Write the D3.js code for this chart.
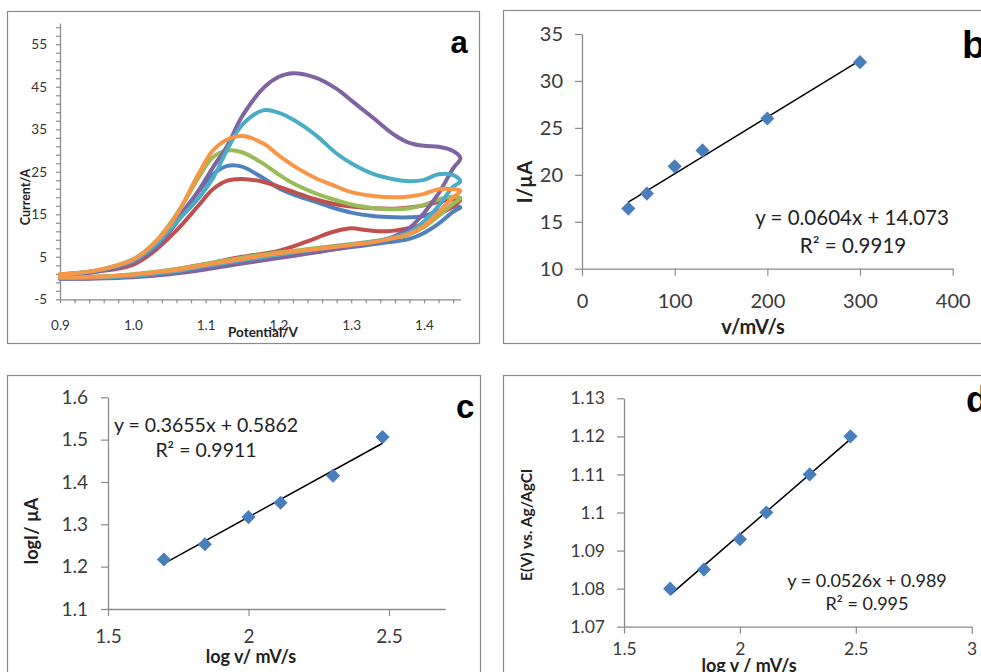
<!DOCTYPE html>
<html><head><meta charset="utf-8">
<script src="https://cdn.jsdelivr.net/npm/d3@7"></script>
<style>body{margin:0;background:#fff}svg{display:block}</style>
</head><body><svg id="chart" width="981" height="672"></svg>
<script>
// ---------- Panel a : cyclic voltammograms ----------
const cvForwardV = [0.9, 0.95, 1.0, 1.03, 1.06, 1.09, 1.11, 1.13, 1.15, 1.18, 1.2, 1.22, 1.25, 1.28, 1.3, 1.33, 1.36, 1.38, 1.4, 1.42, 1.44, 1.45];
const cvReverseV = [1.45, 1.44, 1.42, 1.40, 1.38, 1.35, 1.32, 1.3, 1.27, 1.25, 1.2, 1.15, 1.1, 1.05, 1.0, 0.95, 0.9];

const cvBlueFwd   = [0.8, 1.7, 4.0, 7.5, 13.8, 20.3, 24.4, 26.4, 26.2, 23.4, 21.2, 19.7, 18.0, 16.3, 15.4, 14.6, 14.3, 14.3, 14.6, 15.8, 16.8, 16.6];
const cvBlueRev   = [16.6, 15.6, 12.8, 10.6, 9.2, 8.4, 7.7, 7.3, 6.6, 6.1, 5.0, 3.8, 2.5, 1.2, 0.4, 0.0, -0.1];
const cvRedFwd    = [0.8, 1.5, 3.1, 6.4, 11.2, 17.0, 20.9, 22.9, 23.3, 22.6, 21.5, 20.3, 18.6, 17.3, 16.8, 16.4, 16.3, 16.6, 17.1, 17.9, 18.5, 18.3];
const cvRedRev    = [18.3, 16.8, 15.0, 12.8, 11.8, 11.0, 11.3, 11.7, 10.6, 9.3, 6.4, 5.0, 3.3, 1.8, 0.8, 0.3, 0.1];
const cvGreenFwd  = [0.9, 1.8, 4.4, 8.4, 15.0, 23.5, 28.4, 30.0, 29.6, 26.8, 24.4, 22.3, 20.0, 18.3, 17.3, 16.5, 16.2, 16.4, 17.2, 18.5, 19.1, 18.8];
const cvGreenRev  = [18.8, 17.5, 14.6, 12.0, 10.3, 9.2, 8.4, 8.0, 7.4, 7.0, 6.0, 4.8, 3.3, 1.9, 0.9, 0.3, 0.1];
const cvPurpleFwd = [0.7, 1.5, 3.6, 7.0, 13.0, 20.5, 26.0, 31.2, 38.0, 44.8, 47.3, 48.2, 47.2, 44.5, 41.8, 37.7, 33.6, 31.8, 31.1, 30.9, 29.9, 28.2];
const cvPurpleRev = [28.2, 25.8, 19.9, 15.3, 11.8, 9.2, 8.0, 7.4, 6.6, 6.0, 4.7, 3.4, 2.0, 0.9, 0.2, -0.1, -0.2];
const cvCyanFwd   = [0.8, 1.7, 4.0, 7.6, 13.2, 18.7, 23.5, 30.3, 36.0, 39.5, 38.9, 37.3, 33.8, 29.3, 27.0, 24.5, 23.2, 22.8, 23.1, 24.4, 24.2, 22.8];
const cvCyanRev   = [22.8, 21.5, 17.0, 13.3, 10.8, 9.2, 8.3, 7.9, 7.2, 6.7, 5.5, 4.2, 2.8, 1.4, 0.5, 0.1, -0.1];
const cvOrangeFwd = [0.9, 1.8, 4.3, 8.2, 14.8, 24.4, 30.0, 32.6, 33.4, 31.6, 28.9, 26.5, 23.6, 21.5, 20.2, 19.3, 19.0, 19.2, 19.8, 20.9, 20.9, 20.5];
const cvOrangeRev = [20.5, 19.0, 15.5, 12.3, 10.4, 9.1, 8.2, 7.8, 7.2, 6.8, 5.8, 4.5, 3.1, 1.7, 0.8, 0.3, 0.1];

const cvColors = ["#4F81BD", "#C0504D", "#9BBB59", "#8064A2", "#4BACC6", "#F79646"];
const aYTickLabels = [-5, 5, 15, 25, 35, 45, 55];
const aXTickLabels = [0.9, 1.0, 1.1, 1.2, 1.3, 1.4];

// ---------- Panel b ----------
const scanRate = [50, 70, 100, 130, 200, 300];
const peakCurrent = [16.4, 18.0, 20.9, 22.6, 26.0, 32.0];
const bSlope = 0.0604, bIntercept = 14.073;
const bYTicks = [10, 15, 20, 25, 30, 35];
const bXTicks = [0, 100, 200, 300, 400];

// ---------- Panel c ----------
const logScanRate = [1.699, 1.845, 2.0, 2.114, 2.301, 2.477];
const logPeakCurrent = [1.217, 1.253, 1.317, 1.351, 1.415, 1.506];
const cSlope = 0.3655, cIntercept = 0.5862;
const cYTicks = [1.1, 1.2, 1.3, 1.4, 1.5, 1.6];
const cXTicks = [1.5, 2, 2.5];

// ---------- Panel d ----------
const peakPotential = [1.080, 1.085, 1.093, 1.100, 1.110, 1.120];
const dSlope = 0.0526, dIntercept = 0.989;
const dYTicks = [1.07, 1.08, 1.09, 1.1, 1.11, 1.12, 1.13];
const dXTicks = [1.5, 2, 2.5, 3];

const svg = d3.select("#chart");
const GRAY = "#8a8a8a";
const FONT = "Lato, 'Open Sans', sans-serif";

function styleAxis(g, size, color) {
  g.select(".domain").attr("stroke", GRAY).attr("stroke-width", 1.3);
  g.selectAll(".tick line").attr("stroke", GRAY).attr("stroke-width", 1.2);
  g.selectAll(".tick text").attr("font-family", FONT).attr("font-size", size).attr("fill", color);
}

// panel borders
[[7.5, 11.5, 472, 332], [503.5, 10.5, 490, 333], [7.5, 375.5, 473, 320], [503.5, 375.5, 490, 320]].forEach(r => {
  svg.append("rect").attr("x", r[0]).attr("y", r[1]).attr("width", r[2]).attr("height", r[3])
    .attr("fill", "none").attr("stroke", GRAY).attr("stroke-width", 1.2);
});

// ===== Panel a =====
{
  const x = d3.scaleLinear().domain([0.9, 1.45]).range([60, 460.4]);
  const y = d3.scaleLinear().domain([-5, 60]).range([299.3, 23]);
  const ya = svg.append("g").attr("transform", "translate(60,0)")
    .call(d3.axisLeft(y).tickValues(d3.range(-5, 60, 2)).tickSize(4).tickSizeOuter(0).tickPadding(9)
      .tickFormat(d => aYTickLabels.includes(d) ? d : ""));
  styleAxis(ya, 13.5, "#333");
  const xa = svg.append("g").attr("transform", "translate(0,299.3)")
    .call(d3.axisBottom(x).tickValues(d3.range(0, 28).map(i => +(0.9 + i * 0.02).toFixed(2))).tickSize(4).tickSizeOuter(0).tickPadding(17)
      .tickFormat(d => aXTickLabels.some(v => Math.abs(v - d) < 1e-9) ? d3.format(".1f")(d) : ""));
  styleAxis(xa, 13.5, "#333");

  const series = [
    [cvBlueFwd, cvBlueRev], [cvRedFwd, cvRedRev], [cvGreenFwd, cvGreenRev],
    [cvPurpleFwd, cvPurpleRev], [cvCyanFwd, cvCyanRev], [cvOrangeFwd, cvOrangeRev]
  ];
  const line = d3.line().x(d => x(d[0])).y(d => y(d[1])).curve(d3.curveCatmullRom.alpha(0.5));
  series.forEach((s, i) => {
    const pts = cvForwardV.map((v, k) => [v, s[0][k]]).concat(cvReverseV.slice(1).map((v, k) => [v, s[1][k + 1]]));
    svg.append("path").attr("d", line(pts)).attr("fill", "none").attr("stroke", cvColors[i])
      .attr("stroke-width", 4).attr("stroke-linejoin", "round").attr("stroke-linecap", "round");
  });
  svg.append("text").attr("x", 263).attr("y", 337).attr("text-anchor", "middle")
    .attr("font-family", FONT).attr("font-weight", "bold").attr("font-size", 13.5).attr("fill", "#222").text("Potential/V");
  svg.append("text").attr("transform", "translate(30,197) rotate(-90)").attr("text-anchor", "middle")
    .attr("font-family", FONT).attr("font-weight", "bold").attr("font-size", 12.5).attr("fill", "#222").text("Current/A");
  svg.append("text").attr("x", 459).attr("y", 53).attr("text-anchor", "middle")
    .attr("font-family", "Arial, 'Liberation Sans', sans-serif").attr("font-weight", "bold").attr("font-size", 31).attr("fill", "#000").text("a");
}

function scatterPanel(o) {
  const x = d3.scaleLinear().domain(o.xd).range(o.xr);
  const y = d3.scaleLinear().domain(o.yd).range(o.yr);
  const ya = svg.append("g").attr("transform", `translate(${o.xr[0]},0)`)
    .call(d3.axisLeft(y).tickValues(o.yTicks).tickSize(7).tickSizeOuter(0).tickPadding(o.yPad).tickFormat(o.yFmt));
  styleAxis(ya, o.tickSize, "#3a3a3a");
  const xa = svg.append("g").attr("transform", `translate(0,${o.yr[0]})`)
    .call(d3.axisBottom(x).tickValues(o.xTicks).tickSize(7).tickSizeOuter(0).tickPadding(o.xPad).tickFormat(d3.format("")));
  styleAxis(xa, o.tickSize, "#3a3a3a");
  const x0 = d3.min(o.xs), x1 = d3.max(o.xs);
  svg.append("line").attr("x1", x(x0)).attr("y1", y(o.slope * x0 + o.icpt))
    .attr("x2", x(x1)).attr("y2", y(o.slope * x1 + o.icpt)).attr("stroke", "#000").attr("stroke-width", 1.5);
  svg.selectAll(null).data(o.xs.map((v, i) => [v, o.ys[i]])).enter().append("path")
    .attr("d", d3.symbol(d3.symbolSquare, 100)())
    .attr("transform", d => `translate(${x(d[0])},${y(d[1])}) rotate(45)`)
    .attr("fill", "#4A7EBB");
  const ft = svg.append("g").attr("font-family", FONT).attr("fill", "#222").attr("font-size", o.eqSize).attr("text-anchor", "middle");
  ft.append("text").attr("x", o.eq[0]).attr("y", o.eq[1]).text(o.eqText);
  ft.append("text").attr("x", o.eq[2]).attr("y", o.eq[3]).text(o.r2Text);
  svg.append("text").attr("x", o.xt[0]).attr("y", o.xt[1]).attr("text-anchor", "middle")
    .attr("font-family", FONT).attr("font-weight", "bold").attr("font-size", o.titleSize).attr("fill", "#222").text(o.xTitle);
  svg.append("text").attr("transform", `translate(${o.yt[0]},${o.yt[1]}) rotate(-90)`).attr("text-anchor", "middle")
    .attr("font-family", FONT).attr("font-weight", "bold").attr("font-size", o.yTitleSize || o.titleSize).attr("fill", "#222").text(o.yTitle);
  svg.append("text").attr("x", o.lab[0]).attr("y", o.lab[1])
    .attr("font-family", "Arial, 'Liberation Sans', sans-serif").attr("font-weight", "bold").attr("font-size", o.lab[2]).attr("fill", "#000").text(o.lab[3]);
}

scatterPanel({
  xd: [0, 400], xr: [582, 952.7], yd: [10, 35], yr: [268.7, 34],
  yTicks: bYTicks, xTicks: bXTicks, yFmt: d3.format(""), yPad: 12, xPad: 18, tickSize: 20,
  xs: scanRate, ys: peakCurrent, slope: bSlope, icpt: bIntercept,
  eqSize: 20.5, eq: [852, 225, 853, 253], eqText: "y = 0.0604x + 14.073", r2Text: "R² = 0.9919",
  xTitle: "v/mV/s", xt: [753, 334], yTitle: "I/µA", yt: [532, 182], titleSize: 20,
  lab: [962, 58, 39, "b"]
});
scatterPanel({
  xd: [1.5, 2.7], xr: [108, 445.2], yd: [1.1, 1.6], yr: [609, 397.3],
  yTicks: cYTicks, xTicks: cXTicks, yFmt: d3.format(".1f"), yPad: 13, xPad: 14, tickSize: 19,
  xs: logScanRate, ys: logPeakCurrent, slope: cSlope, icpt: cIntercept,
  eqSize: 19.5, eq: [206, 432, 206, 457], eqText: "y = 0.3655x + 0.5862", r2Text: "R² = 0.9911",
  xTitle: "log v/ mV/s", xt: [251, 663], yTitle: "logI/ µA", yt: [38, 531], titleSize: 18,
  lab: [456, 418, 33, "c"]
});
scatterPanel({
  xd: [1.5, 3], xr: [624, 971.7], yd: [1.07, 1.13], yr: [626.7, 398.3],
  yTicks: dYTicks, xTicks: dXTicks, yFmt: d3.format(""), yPad: 12, xPad: 9, tickSize: 17.5,
  xs: logScanRate, ys: peakPotential, slope: dSlope, icpt: dIntercept,
  eqSize: 18, eq: [867, 587, 867, 610], eqText: "y = 0.0526x + 0.989", r2Text: "R² = 0.995",
  xTitle: "log v / mV/s", xt: [749, 672], yTitle: "E(V) vs. Ag/AgCl", yt: [532, 525], titleSize: 18, yTitleSize: 15.5,
  lab: [966, 412, 36, "d"]
});
</script></body></html>
